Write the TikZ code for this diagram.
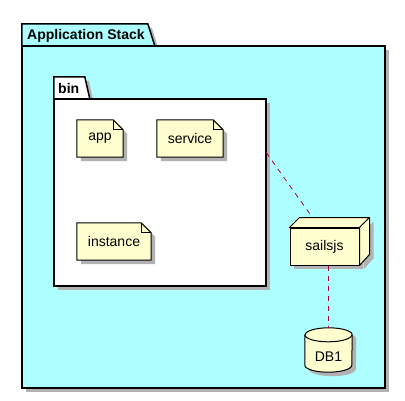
\documentclass[tikz,border=0pt]{standalone}
\usepackage{fontspec}
\setmainfont{Liberation Sans}
\usetikzlibrary{shadows,backgrounds}
\definecolor{stackcyan}{HTML}{ADFFFF}
\definecolor{notecream}{HTML}{FEFECE}
\definecolor{linkred}{HTML}{A80036}

% folded note outline round a (text only) node
\newcommand{\notebox}[1]{%
  \draw[notebody] (#1.north west) -- ([xshift=-10pt]#1.north east)
    -- ([yshift=-10pt]#1.north east) -- (#1.south east) -- (#1.south west) -- cycle;
  \draw[line width=1pt] ([xshift=-10pt]#1.north east) -- ([xshift=-10pt,yshift=-10pt]#1.north east)
    -- ([yshift=-10pt]#1.north east);
}

\begin{document}
\begin{tikzpicture}[x=1pt, y=-1pt, line join=round, font=\fontsize{14}{16}\selectfont,
  shade/.style={drop shadow={shadow xshift=4pt, shadow yshift=-4pt, fill=black!30, opacity=1}},
  pkgline/.style={draw, line width=1.5pt, shade},
  notebody/.style={line width=1pt, fill=notecream, shade},
  notetext/.style={inner sep=0pt},
  capend/.style={x radius=23.5pt, y radius=7pt},
  link/.style={draw=linkred, line width=0.8pt, dash pattern=on 5pt off 5pt}]
\useasboundingbox (0,0) rectangle (405,400);

% 1. packages (outlines drawn on the background layer)
\node[minimum width=363pt, minimum height=342pt, inner sep=0pt] (stack) at (203.5,217) {};
\node[minimum width=212pt, minimum height=187pt, inner sep=0pt] (bin) at (160,192.5) {};
\node[anchor=west, inner sep=0pt, font=\fontsize{14}{16}\selectfont\bfseries] (stacktitle) at (27,36) {Application Stack};
\node[anchor=west, inner sep=0pt, font=\fontsize{14}{16}\selectfont\bfseries] (bintitle) at (58,88) {bin};

% 2. notes inside bin
\node[notetext, minimum width=46pt, minimum height=37pt] (app) at (100,138.5) {app};
\node[notetext, minimum width=66pt, minimum height=37pt] (service) at (190,138.5) {service};
\node[notetext, minimum width=74pt, minimum height=37pt] (instance) at (114,241.5) {instance};

% 3. node and database
\node[draw, line width=1pt, fill=notecream, shade, minimum width=69pt, minimum height=37pt] (sailsjs) at (324.5,246.5) {sailsjs};
\draw[line width=1pt, fill=notecream] (sailsjs.north west) -- ++(10,-10) -- ([shift={(10pt,10pt)}]sailsjs.north east) -- (sailsjs.north east) -- cycle;
\draw[line width=1pt, fill=notecream, shade] (sailsjs.north east) -- ++(10,-10) -- ++(0,37) -- (sailsjs.south east) -- cycle;
\node[minimum width=47pt, minimum height=44pt, inner sep=0pt] (db) at (328.5,350) {};
\draw[line width=1pt, fill=notecream, shade] ([yshift=-7pt]db.north west) -- ([yshift=7pt]db.south west)
  arc[start angle=180, end angle=360, capend] -- ([yshift=-7pt]db.north east)
  arc[start angle=0, end angle=180, capend] -- cycle;
\draw[line width=1pt] ([yshift=-7pt]db.north west) arc[start angle=180, end angle=360, capend];
\node[inner sep=0pt] (dblabel) at (328.5,357) {DB1};

% 4. links
\draw[link] ([yshift=40pt]bin.east) -- ([shift={(-13.5pt,12pt)}]sailsjs.north);
\draw[link] (sailsjs.south -| db.north) -- (db.north);

\begin{scope}[on background layer]
  \draw[pkgline, fill=stackcyan] (stack.north west) -- ([yshift=22pt]stack.north west)
    -- ([shift={(126pt,22pt)}]stack.north west) -- ([xshift=133pt]stack.north west) -- cycle;
  \draw[pkgline, fill=stackcyan] (stack.north west) rectangle (stack.south east);
  \draw[pkgline, fill=white] (bin.north west) -- ([yshift=22pt]bin.north west)
    -- ([shift={(31pt,22pt)}]bin.north west) -- ([xshift=36pt]bin.north west) -- cycle;
  \draw[pkgline, fill=white] (bin.north west) rectangle (bin.south east);
  \notebox{app}
  \notebox{service}
  \notebox{instance}
\end{scope}
\end{tikzpicture}
\end{document}
